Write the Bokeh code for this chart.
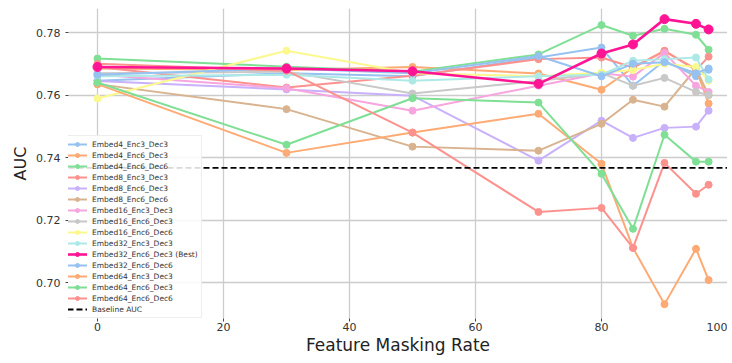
from bokeh.plotting import figure
from bokeh.models import Legend, LegendItem, FixedTicker, NumeralTickFormatter, Range1d
from bokeh.embed import file_html
from bokeh.resources import INLINE

# ---- data ----
mask_rates = [0, 30, 50, 70, 80, 85, 90, 95, 97]

series_names = [
    "Embed4_Enc3_Dec3", "Embed4_Enc6_Dec3", "Embed4_Enc6_Dec6",
    "Embed8_Enc3_Dec3", "Embed8_Enc6_Dec3", "Embed8_Enc6_Dec6",
    "Embed16_Enc3_Dec3", "Embed16_Enc6_Dec3", "Embed16_Enc6_Dec6",
    "Embed32_Enc3_Dec3", "Embed32_Enc6_Dec3 (Best)", "Embed32_Enc6_Dec6",
    "Embed64_Enc3_Dec3", "Embed64_Enc6_Dec3", "Embed64_Enc6_Dec6",
]

e4_3_3 = [0.7646, 0.7670, 0.7660, 0.7720, 0.7752, 0.7630, 0.7710, 0.7660, 0.7681]
e4_6_3 = [0.7685, 0.7680, 0.7690, 0.7669, 0.7617, 0.7688, 0.7740, 0.7684, 0.7573]
e4_6_6 = [0.7717, 0.7691, 0.7675, 0.7730, 0.7824, 0.7790, 0.7812, 0.7793, 0.7745]
e8_3_3 = [0.7690, 0.7624, 0.7662, 0.7715, 0.7720, 0.7688, 0.7742, 0.7680, 0.7723]
e8_6_3 = [0.7645, 0.7618, 0.7598, 0.7390, 0.7518, 0.7463, 0.7495, 0.7499, 0.7550]
e8_6_6 = [0.7635, 0.7555, 0.7435, 0.7422, 0.7508, 0.7585, 0.7563, 0.7685, 0.7600]
e16_3_3 = [0.7665, 0.7622, 0.7550, 0.7630, 0.7670, 0.7659, 0.7735, 0.7630, 0.7610]
e16_6_3 = [0.7670, 0.7675, 0.7605, 0.7645, 0.7670, 0.7630, 0.7655, 0.7610, 0.7600]
e16_6_6 = [0.7589, 0.7742, 0.7670, 0.7660, 0.7672, 0.7680, 0.7700, 0.7690, 0.7646]
e32_3_3 = [0.7660, 0.7665, 0.7646, 0.7660, 0.7665, 0.7710, 0.7715, 0.7720, 0.7650]
e32_6_3 = [0.7690, 0.7685, 0.7676, 0.7636, 0.7733, 0.7762, 0.7843, 0.7828, 0.7810]
e32_6_6 = [0.7665, 0.7685, 0.7670, 0.7725, 0.7660, 0.7700, 0.7705, 0.7670, 0.7685]
e64_3_3 = [0.7635, 0.7415, 0.7480, 0.7540, 0.7380, 0.7111, 0.6931, 0.7108, 0.7008]
e64_6_3 = [0.7640, 0.7441, 0.7590, 0.7576, 0.7348, 0.7172, 0.7473, 0.7387, 0.7387]
e64_6_6 = [0.7700, 0.7678, 0.7480, 0.7226, 0.7239, 0.7111, 0.7383, 0.7284, 0.7313]

series_values = [e4_3_3, e4_6_3, e4_6_6, e8_3_3, e8_6_3, e8_6_6, e16_3_3, e16_6_3,
                 e16_6_6, e32_3_3, e32_6_3, e32_6_6, e64_3_3, e64_6_3, e64_6_6]

baseline_auc = 0.7367
best_index = 10

x_ticks = [0, 20, 40, 60, 80, 100]
y_ticks = [0.70, 0.72, 0.74, 0.76, 0.78]

# ---- styles ----
pastel = ['#96c2f2', '#fdaa74', '#7fdf95', '#fc928e', '#c9b0fb', '#d9b38f',
          '#f7a5de', '#c8c8c8', '#fbf98e', '#ade9e6']
best_color = "#ff1493"
font = "DejaVu Sans"

x_lo, x_hi = -4.6, 100.0
p = figure(frame_width=659, frame_height=310, output_backend="svg", toolbar_location=None,
           x_range=Range1d(x_lo, x_hi), y_range=Range1d(0.6885, 0.7877),
           min_border_left=68, min_border_right=0, min_border_top=8, min_border_bottom=0)
p.outline_line_color = None
p.background_fill_color = "white"

for ax in (p.xaxis, p.yaxis):
    ax.axis_line_color = None
    ax.major_tick_line_color = "#444444"
    ax.minor_tick_line_color = None
    ax.major_tick_in = 0
    ax.major_tick_out = 3
    ax.major_label_text_font = font
    ax.major_label_text_font_size = "11px"
    ax.major_label_text_color = "#333333"
    ax.axis_label_text_font = font
    ax.axis_label_text_font_style = "normal"
    ax.axis_label_text_color = "#222222"

p.xaxis.ticker = FixedTicker(ticks=x_ticks)
p.yaxis.ticker = FixedTicker(ticks=y_ticks)
p.yaxis.formatter = NumeralTickFormatter(format="0.00")
p.xaxis.axis_label = "Feature Masking Rate"
p.yaxis.axis_label = "AUC"
p.xaxis.axis_label_text_font_size = "17px"
p.yaxis.axis_label_text_font_size = "16px"
p.xaxis.axis_label_standoff = 1
p.yaxis.axis_label_standoff = 3
p.xaxis.major_label_standoff = 1

p.xgrid.grid_line_color = "#cccccc"
p.ygrid.grid_line_color = "#cccccc"
p.xgrid.grid_line_width = 1.3
p.ygrid.grid_line_width = 1.3

items = []
color_i = 0
for i, (name, vals) in enumerate(zip(series_names, series_values)):
    if i == best_index:
        continue
    c = pastel[color_i % len(pastel)]
    color_i += 1
    r1 = p.line(mask_rates, vals, line_color=c, line_width=2.0)
    r2 = p.scatter(mask_rates, vals, size=7, fill_color=c, line_color=c)
    items.append((i, LegendItem(label=name, renderers=[r1, r2])))

vals = series_values[best_index]
r1 = p.line(mask_rates, vals, line_color=best_color, line_width=2.6)
r2 = p.scatter(mask_rates, vals, size=9, fill_color=best_color, line_color=best_color)
items.append((best_index, LegendItem(label=series_names[best_index], renderers=[r1, r2])))
items.sort(key=lambda t: t[0])
legend_items = [it for _, it in items]

base_r = p.line([x_lo, x_hi], [baseline_auc, baseline_auc], line_color="black",
                line_width=1.8, line_dash="6 3")
legend_items.append(LegendItem(label="Baseline AUC", renderers=[base_r]))

legend = Legend(items=legend_items, location=(-5, 0))
legend.label_text_font = font
legend.label_text_font_size = "7.5px"
legend.label_text_color = "#333333"
legend.label_height = 10
legend.glyph_height = 10
legend.glyph_width = 20
legend.spacing = 1
legend.padding = 3
legend.margin = 0
legend.label_standoff = 5
legend.border_line_color = "#dddddd"
legend.background_fill_alpha = 0.85
p.add_layout(legend)

open("out.html", "w").write(file_html(p, INLINE))
